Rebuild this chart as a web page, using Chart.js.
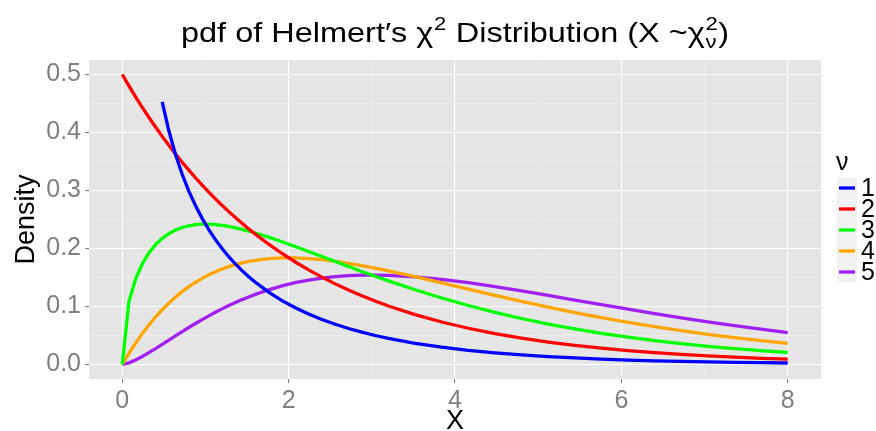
<!DOCTYPE html>
<html><head><meta charset="utf-8">
<script src="https://cdn.jsdelivr.net/npm/chart.js@4"></script>
<style>html,body{margin:0;padding:0;background:#fff}</style>
</head><body><canvas id="c" width="876" height="431"></canvas>
<script>
// ---- data ----
const xValues = [0,0.08,0.16,0.24,0.32,0.40,0.48,0.56,0.64,0.72,0.80,0.88,0.96,1.04,1.12,1.20,1.28,1.36,1.44,1.52,1.60,1.76,1.92,2.08,2.24,2.40,2.56,2.72,2.88,3.04,3.20,3.52,3.84,4.16,4.48,4.80,5.12,5.44,5.76,6.08,6.40,6.72,7.04,7.36,7.68,8.00];
const nu1 = [null,null,null,null,null,null,0.4530,0.4029,0.3621,0.3280,0.2990,0.2739,0.2520,0.2326,0.2153,0.1999,0.1859,0.1733,0.1618,0.1513,0.1417,0.1247,0.1102,0.0978,0.0870,0.0776,0.0693,0.0621,0.0557,0.0500,0.0450,0.0366,0.0299,0.0244,0.0201,0.0165,0.0136,0.0113,0.0093,0.0077,0.0064,0.0054,0.0045,0.0037,0.0031,0.0026];
const nu2 = [0.5000,0.4804,0.4616,0.4435,0.4261,0.4094,0.3933,0.3779,0.3631,0.3488,0.3352,0.3220,0.3094,0.2973,0.2856,0.2744,0.2636,0.2533,0.2434,0.2338,0.2247,0.2074,0.1914,0.1767,0.1631,0.1506,0.1390,0.1283,0.1185,0.1094,0.1009,0.0860,0.0733,0.0625,0.0532,0.0454,0.0387,0.0329,0.0281,0.0239,0.0204,0.0174,0.0148,0.0126,0.0107,0.0092];
const nu3 = [0,0.1084,0.1473,0.1733,0.1923,0.2066,0.2174,0.2256,0.2318,0.2362,0.2392,0.2410,0.2419,0.2419,0.2412,0.2398,0.2380,0.2357,0.2330,0.2300,0.2267,0.2195,0.2117,0.2034,0.1948,0.1862,0.1775,0.1689,0.1604,0.1521,0.1441,0.1288,0.1146,0.1017,0.0899,0.0793,0.0698,0.0613,0.0538,0.0471,0.0411,0.0359,0.0313,0.0273,0.0238,0.0207];
const nu4 = [0,0.0192,0.0369,0.0532,0.0682,0.0819,0.0944,0.1058,0.1162,0.1256,0.1341,0.1417,0.1485,0.1546,0.1599,0.1646,0.1687,0.1722,0.1752,0.1777,0.1797,0.1825,0.1838,0.1838,0.1827,0.1807,0.1779,0.1745,0.1706,0.1662,0.1615,0.1514,0.1407,0.1299,0.1192,0.1089,0.0990,0.0896,0.0808,0.0727,0.0652,0.0584,0.0521,0.0464,0.0413,0.0366];
const nu5 = [0,0.0029,0.0079,0.0139,0.0205,0.0275,0.0348,0.0421,0.0494,0.0567,0.0638,0.0707,0.0774,0.0839,0.0900,0.0959,0.1016,0.1069,0.1119,0.1165,0.1209,0.1288,0.1355,0.1410,0.1455,0.1489,0.1514,0.1531,0.1540,0.1542,0.1537,0.1511,0.1467,0.1410,0.1342,0.1269,0.1191,0.1112,0.1032,0.0954,0.0878,0.0805,0.0735,0.0670,0.0608,0.0551];
const seriesNames = ['1','2','3','4','5'];
const seriesValues = [nu1, nu2, nu3, nu4, nu5];
const seriesColors = ['#0000ff','#ff0000','#00ff00','#ffa500','#a020f0'];
const xMajorTicks = [0,2,4,6,8];
const xMinorTicks = [1,3,5,7];
const xTickLabels = ['0','2','4','6','8'];
const yMajorTicks = [0,0.1,0.2,0.3,0.4,0.5];
const yMinorTicks = [0.05,0.15,0.25,0.35,0.45];
const yTickLabels = ['0.0','0.1','0.2','0.3','0.4','0.5'];
const legendTitle = 'ν';
const yAxisTitle = 'Density';
const xAxisTitle = 'X';

// ---- chart ----
const FONT = '"Liberation Sans", Arial, Helvetica, sans-serif';
const isMajor = (arr, v) => arr.some(m => Math.abs(m - v) < 1e-9);

const datasets = seriesValues.map((vals, i) => ({
  label: seriesNames[i],
  data: xValues.map((x, j) => ({x: x, y: vals[j]})),
  borderColor: seriesColors[i],
  backgroundColor: seriesColors[i],
  borderWidth: 3.3,
  pointRadius: 0,
  tension: 0,
  fill: false,
  spanGaps: false
}));

const bgPlugin = {
  id: 'panelBg',
  beforeDraw(chart) {
    const {ctx, chartArea: a} = chart;
    ctx.save();
    ctx.fillStyle = '#e5e5e5';
    ctx.fillRect(a.left, a.top, a.right - a.left, a.bottom - a.top);
    ctx.restore();
  }
};

const decorPlugin = {
  id: 'decor',
  afterDraw(chart) {
    const ctx = chart.ctx;
    ctx.save();
    // ---- title with chi-square notation ----
    const big = 28, small = 19, stretch = 1.16;
    const parts = [
      {t: 'pdf of Helmert′s ', f: big},
      {t: 'χ', f: big},
      {sup: '2', f: small},
      {t: ' Distribution (X ~', f: big},
      {t: 'χ', f: big},
      {sup: '2', sub: 'ν', f: small},
      {t: ')', f: big}
    ];
    let total = 0;
    parts.forEach(p => {
      ctx.font = p.f + 'px ' + FONT;
      const w = p.t !== undefined ? ctx.measureText(p.t).width
        : Math.max(ctx.measureText(p.sup || '').width, ctx.measureText(p.sub || '').width) + 1;
      p.w = w; total += w;
    });
    const cx = 455;
    ctx.translate(cx, 0);
    ctx.scale(stretch, 1);
    let x = -total / 2;
    const base = 42;
    ctx.fillStyle = '#000';
    ctx.textBaseline = 'alphabetic';
    ctx.textAlign = 'left';
    parts.forEach(p => {
      ctx.font = p.f + 'px ' + FONT;
      if (p.t !== undefined) {
        ctx.fillText(p.t, x, base);
      } else {
        if (p.sup) ctx.fillText(p.sup, x + 0.5, base - 12);
        if (p.sub) ctx.fillText(p.sub, x + 0.5, base + 6);
      }
      x += p.w;
    });
    ctx.setTransform(1, 0, 0, 1, 0, 0);
    // ---- legend ----
    ctx.font = '25px ' + FONT;
    ctx.textBaseline = 'middle';
    ctx.fillStyle = '#000';
    ctx.fillText(legendTitle, 836, 163);
    const rowH = 21, top0 = 177.5;
    seriesNames.forEach((name, i) => {
      const y0 = top0 + i * rowH;
      ctx.fillStyle = '#f2f2f2';
      ctx.fillRect(837, y0, 20, rowH);
      ctx.strokeStyle = seriesColors[i];
      ctx.lineWidth = 3.3;
      ctx.beginPath();
      ctx.moveTo(839, y0 + rowH / 2);
      ctx.lineTo(855, y0 + rowH / 2);
      ctx.stroke();
      ctx.fillStyle = '#000';
      ctx.font = '25px ' + FONT;
      ctx.fillText(name, 861, y0 + rowH / 2 + 1);
    });
    ctx.restore();
  }
};

new Chart(document.getElementById('c'), {
  type: 'line',
  data: {datasets},
  options: {
    responsive: false,
    animation: false,
    devicePixelRatio: 1,
    layout: {padding: {top: 60, right: 55, left: 0, bottom: 0}},
    plugins: {legend: {display: false}, title: {display: false}, tooltip: {enabled: false}},
    scales: {
      x: {
        type: 'linear', min: -0.4, max: 8.4,
        afterBuildTicks: s => { s.ticks = xMajorTicks.concat(xMinorTicks).sort((a,b)=>a-b).map(v => ({value: v})); },
        afterFit: s => { s.height = 52; },
        border: {display: false},
        grid: {
          color: c => isMajor(xMajorTicks, c.tick.value) ? '#ffffff' : '#f2f2f2',
          lineWidth: c => isMajor(xMajorTicks, c.tick.value) ? 1.1 : 0.6,
          tickLength: 4,
          tickColor: c => isMajor(xMajorTicks, c.tick.value) ? '#7f7f7f' : 'rgba(0,0,0,0)'
        },
        ticks: {
          autoSkip: false, maxRotation: 0, padding: 3,
          color: '#7f7f7f', font: {family: FONT, size: 25},
          callback: v => { const k = xMajorTicks.findIndex(m => Math.abs(m - v) < 1e-9); return k >= 0 ? xTickLabels[k] : ''; }
        },
        title: {display: true, text: xAxisTitle, color: '#000', font: {family: FONT, size: 27}, padding: {top: 0, bottom: -7}}
      },
      y: {
        type: 'linear', min: -0.025, max: 0.525,
        afterBuildTicks: s => { s.ticks = yMajorTicks.concat(yMinorTicks).sort((a,b)=>a-b).map(v => ({value: v})); },
        afterFit: s => { s.width = 89; },
        border: {display: false},
        grid: {
          color: c => isMajor(yMajorTicks, c.tick.value) ? '#ffffff' : '#f2f2f2',
          lineWidth: c => isMajor(yMajorTicks, c.tick.value) ? 1.1 : 0.6,
          tickLength: 4,
          tickColor: c => isMajor(yMajorTicks, c.tick.value) ? '#7f7f7f' : 'rgba(0,0,0,0)'
        },
        ticks: {
          autoSkip: false, padding: 4,
          color: '#7f7f7f', font: {family: FONT, size: 25},
          callback: v => { const k = yMajorTicks.findIndex(m => Math.abs(m - v) < 1e-9); return k >= 0 ? yTickLabels[k] : ''; }
        },
        title: {display: true, text: yAxisTitle, color: '#000', font: {family: FONT, size: 27}, padding: {top: 10, bottom: 0}}
      }
    }
  },
  plugins: [bgPlugin, decorPlugin]
});
</script></body></html>
